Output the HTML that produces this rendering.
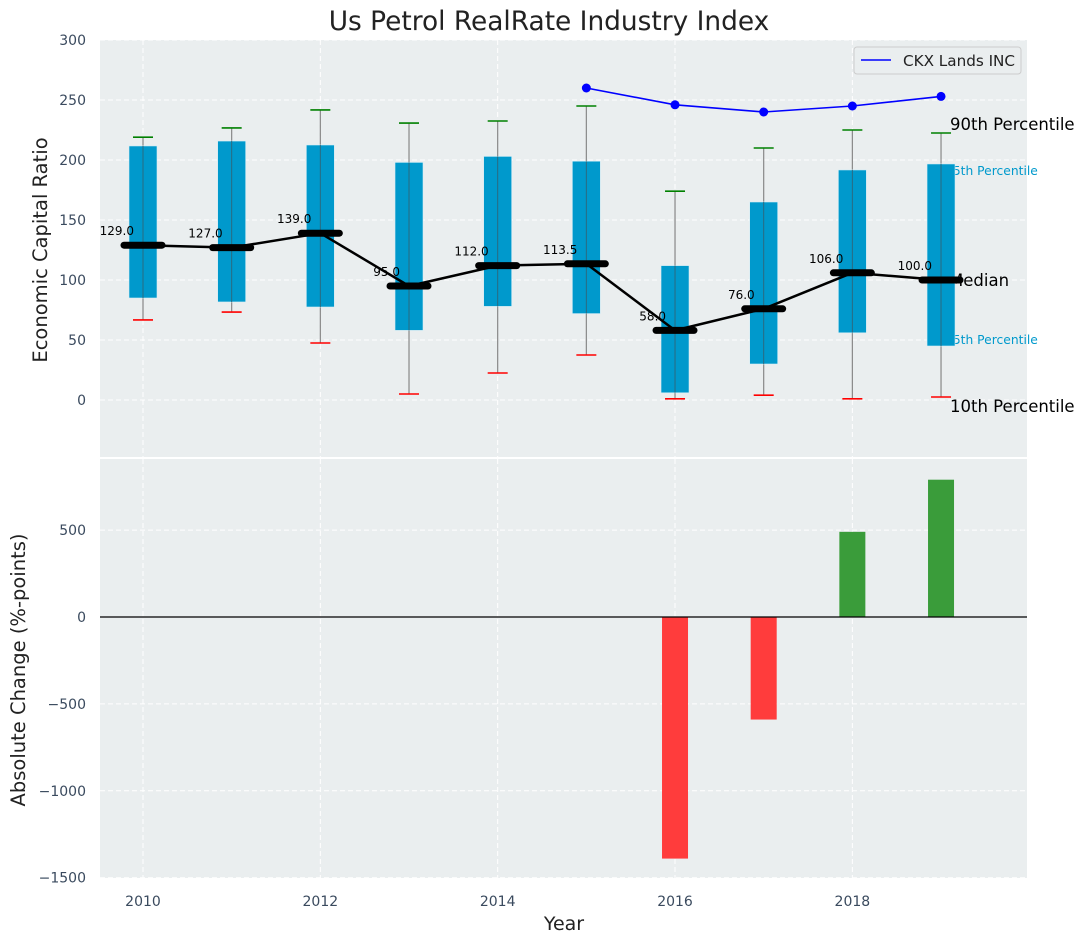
<!DOCTYPE html>
<html><head><meta charset="utf-8"><style>
html,body{margin:0;padding:0;background:#fff;}
svg{display:block;font-family:"DejaVu Sans","Liberation Sans",sans-serif;}
</style></head><body>
<svg id="chart" width="1085" height="942" xmlns="http://www.w3.org/2000/svg"></svg>
<script>
const years=[2010,2011,2012,2013,2014,2015,2016,2017,2018,2019];
const p10=[66.7,73.3,47.5,5,22.5,37.5,1,4,1,2.5];
const p25=[85,81.7,77.5,58,78,72,6,30,56,45];
const medians=[129,127,139,95,112,113.5,58,76,106,100];
const p75=[211.7,215.8,212.5,198,203,199,112,165,191.7,196.7];
const p90=[219,226.7,241.7,230.8,232.5,245,174,210,225,222.5];
const ckxYears=[2015,2016,2017,2018,2019];
const ckxValues=[260,246,240,245,253];
const changes=[0,0,0,0,0,0,-1390,-590,490,790];
const topTicks=[0,50,100,150,200,250,300];
const botTicks=[-1500,-1000,-500,0,500];
const xTicks=[2010,2012,2014,2016,2018];

const NS="http://www.w3.org/2000/svg";
const svg=document.getElementById('chart');
function el(tag,attrs,parent,text){const e=document.createElementNS(NS,tag);for(const k in attrs)e.setAttribute(k,attrs[k]);if(text!==undefined)e.textContent=text;(parent||svg).appendChild(e);return e;}
const L=100,R=1027;
const X=v=>143+(v-2010)*88.67;
const T0=40,T1=457;const YT=v=>400-v*1.2;
const B0=459,B1=878;const YB=v=>617-v*0.1738;
const tick="#3a4a5e";

let g=el('rect',{x:L,y:T0,width:R-L,height:T1-T0,fill:'#eaeeef'});

g=el('rect',{x:L,y:B0,width:R-L,height:B1-B0,fill:'#eaeeef'});


for(const t of topTicks){const y=YT(t);
 el('line',{x1:L,x2:R,y1:y,y2:y,stroke:'#fff','stroke-dasharray':'5,3','stroke-width':1});
 const tx=el('text',{x:L-14,y:y+5,'text-anchor':'end','font-size':14,fill:tick},svg,t);
 }
for(const t of botTicks){const y=YB(t);
 el('line',{x1:L,x2:R,y1:y,y2:y,stroke:'#fff','stroke-dasharray':'5,3','stroke-width':1});
 const tx=el('text',{x:L-14,y:y+5,'text-anchor':'end','font-size':14,fill:tick},svg,t<0?'\u2212'+(-t):t);
 }
for(const t of xTicks){const x=X(t);
 el('line',{x1:x,x2:x,y1:T0,y2:T1,stroke:'#fff','stroke-dasharray':'5,3'});
 el('line',{x1:x,x2:x,y1:B0,y2:B1,stroke:'#fff','stroke-dasharray':'5,3'});
 const tx=el('text',{x:x,y:B1+28,'text-anchor':'middle','font-size':14,fill:tick},svg,t);
 }

const lastX=X(years[years.length-1]);
const labs=[['90th Percentile',p90,'#000',16.5,9,-3],['75th Percentile',p75,'#0099cc',12.3,4,11],['Median',medians,'#000',16.5,8,6],['25th Percentile',p25,'#0099cc',12.3,4,-2],['10th Percentile',p10,'#000',16.5,9,15]];
for(const [txt,arr,col,fs,dx,dy] of labs){
 const t=el('text',{x:lastX+dx,y:YT(arr[arr.length-1])+dy,'font-size':fs,fill:col},svg,txt);
 }

years.forEach((yr,i)=>{const x=X(yr);
 const w=el('line',{x1:x,x2:x,y1:YT(p10[i]),y2:YT(p90[i]),stroke:'#888','stroke-width':1.2});
 
 const b=el('rect',{x:x-14,y:YT(p75[i]),width:28,height:YT(p25[i])-YT(p75[i]),fill:'#0099cc',stroke:'#d8eef6','stroke-width':0.6});
 
 el('line',{x1:x,x2:x,y1:YT(p75[i]),y2:YT(p25[i]),stroke:'#2a6a80','stroke-width':1});
 const c1=el('line',{x1:x-10,x2:x+10,y1:YT(p90[i]),y2:YT(p90[i]),stroke:'green','stroke-width':1.6});
 
 const c2=el('line',{x1:x-10,x2:x+10,y1:YT(p10[i]),y2:YT(p10[i]),stroke:'red','stroke-width':1.6});
 
});
const pts=years.map((yr,i)=>X(yr)+','+YT(medians[i])).join(' ');
g=el('polyline',{points:pts,fill:'none',stroke:'#000','stroke-width':2.5});

years.forEach((yr,i)=>{const x=X(yr),y=YT(medians[i]);
 const m=el('line',{x1:x-19,x2:x+19,y1:y,y2:y,stroke:'#000','stroke-width':7,'stroke-linecap':'round'});
 
 const t=el('text',{x:x-9,y:y-10,'text-anchor':'end','font-size':12,fill:'#000'},svg,medians[i].toFixed(1));
 
});
g=el('polyline',{points:ckxYears.map((yr,i)=>X(yr)+','+YT(ckxValues[i])).join(' '),fill:'none',stroke:'blue','stroke-width':1.6});

ckxYears.forEach((yr,i)=>{const c=el('circle',{cx:X(yr),cy:YT(ckxValues[i]),r:4.5,fill:'blue'});
 });

g=el('g',{});
el('rect',{x:854,y:47,width:167,height:27,rx:3,fill:'#eaeeef',stroke:'#ccc'},g);
el('line',{x1:861,x2:891,y1:60,y2:60,stroke:'blue','stroke-width':1.6},g);
const lt=el('text',{x:903,y:66,'font-size':15.2,fill:'#222'},g,'CKX Lands INC');


years.forEach((yr,i)=>{const v=changes[i];if(v===0)return;const x=X(yr);
 const y0=YB(0),y1=YB(v);
 const b=el('rect',{x:x-13,y:Math.min(y0,y1),width:26,height:Math.abs(y1-y0),fill:v<0?'#ff3c3c':'#3a9c3a'});
 });
g=el('line',{x1:L,x2:R,y1:YB(0),y2:YB(0),stroke:'#000','stroke-width':1.2});


let t=el('text',{x:549,y:30,'text-anchor':'middle','font-size':26.4,fill:'#222'},svg,'Us Petrol RealRate Industry Index');

t=el('text',{x:47,y:250,'text-anchor':'middle','font-size':19.5,fill:'#222',transform:'rotate(-90 47 250)'},svg,'Economic Capital Ratio');

t=el('text',{x:25,y:670,'text-anchor':'middle','font-size':19.5,fill:'#222',transform:'rotate(-90 25 670)'},svg,'Absolute Change (%-points)');

t=el('text',{x:564,y:930,'text-anchor':'middle','font-size':19,fill:'#222'},svg,'Year');

</script>
</body></html>
